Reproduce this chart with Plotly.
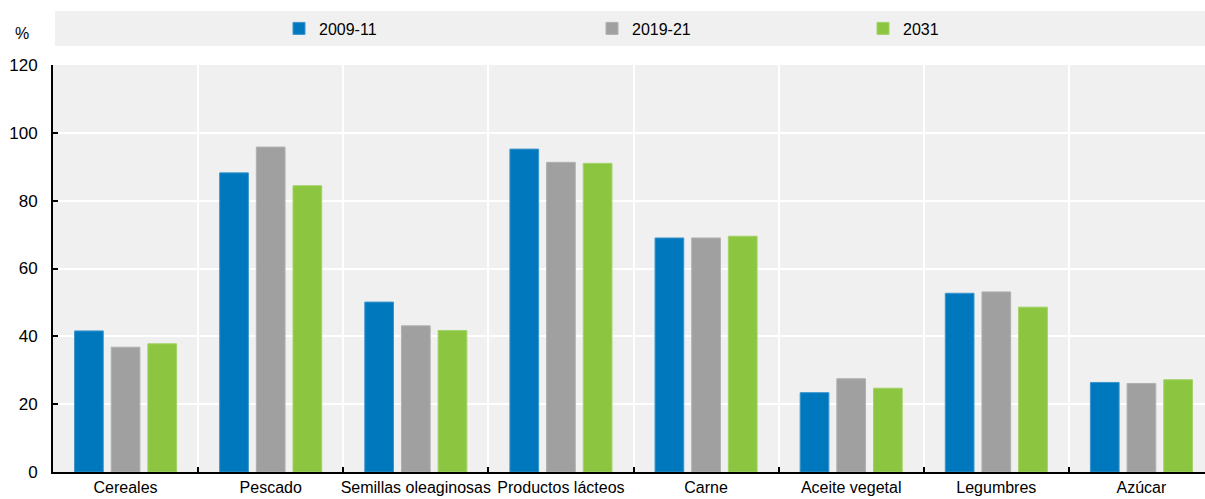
import plotly.graph_objects as go

categories = ["Cereales", "Pescado", "Semillas oleaginosas", "Productos lácteos",
              "Carne", "Aceite vegetal", "Legumbres", "Azúcar"]
series_names = ["2009-11", "2019-21", "2031"]
v_2009_11 = [41.6, 88.2, 50.1, 95.2, 69.0, 23.4, 52.7, 26.4]
v_2019_21 = [36.8, 95.8, 43.1, 91.3, 69.0, 27.5, 53.1, 26.1]
v_2031 = [37.8, 84.4, 41.7, 91.0, 69.5, 24.7, 48.6, 27.2]
y_ticks = [0, 20, 40, 60, 80, 100, 120]

colors = ["#0078be", "#a0a0a0", "#8cc641"]
edge_colors = ["#3b95cc", "#b0b0b0", "#a2d265"]
values = [v_2009_11, v_2019_21, v_2031]

FONT = "Liberation Sans, Arial, sans-serif"
W, H = 1205, 499
ML, MR, MT, MB = 53, 0, 65, 27
plot_w = W - ML - MR
plot_h = H - MT - MB

fig = go.Figure()
legend_ids = ["legend", "legend2", "legend3"]
for name, vals, c, ec, lg in zip(series_names, values, colors, edge_colors, legend_ids):
    fig.add_trace(go.Bar(
        x=categories, y=vals, name=name,
        marker=dict(color=c, line=dict(color=ec, width=1)),
        legend=lg,
    ))


def px_x(p):
    return (p - ML) / plot_w


def px_y(p):
    return (H - MB - p) / plot_h


# legend strip background
fig.add_shape(type="rect", xref="paper", yref="paper",
              x0=px_x(55), x1=px_x(1205), y0=px_y(46), y1=px_y(11),
              fillcolor="#f0f0f0", line=dict(width=0), layer="below")

legend_text_x = [314, 627, 898]
leg_common = dict(orientation="h", yanchor="middle", xanchor="left",
                  bgcolor="rgba(0,0,0,0)", borderwidth=0,
                  font=dict(family=FONT, size=16, color="#000"),
                  itemwidth=30, tracegroupgap=0)
layout_legends = {}
for lg, tx in zip(legend_ids, legend_text_x):
    layout_legends[lg] = dict(leg_common, x=px_x(tx - 35), y=px_y(28.5))

fig.update_layout(
    width=W, height=H,
    margin=dict(l=ML, r=MR, t=MT, b=MB, pad=0, autoexpand=False),
    paper_bgcolor="white", plot_bgcolor="#f0f0f0",
    barmode="group", bargap=0.242, bargroupgap=0.217,
    font=dict(family=FONT, size=16, color="#000"),
    showlegend=True,
    **layout_legends,
)

fig.update_xaxes(
    type="category", range=[-0.5, 7.5 - 9 / 145.17],
    tickson="boundaries", ticks="inside", ticklen=5, tickwidth=2, tickcolor="#000",
    showgrid=True, gridcolor="white", gridwidth=2,
    showline=True, linecolor="#000", linewidth=2,
    tickangle=0, automargin=False,
    tickfont=dict(family=FONT, size=16, color="#000"),
)
fig.update_yaxes(
    range=[0, 120], tickvals=y_ticks,
    ticks="inside", ticklen=5, tickwidth=2, tickcolor="#000",
    showgrid=True, gridcolor="white", gridwidth=2,
    showline=True, linecolor="#000", linewidth=2,
    zeroline=False, automargin=False, ticklabelstandoff=10,
    tickfont=dict(family=FONT, size=17, color="#000"),
)

fig.add_annotation(text="%", xref="paper", yref="paper",
                   x=px_x(22), y=px_y(33), xanchor="center", yanchor="middle",
                   showarrow=False, font=dict(family=FONT, size=16, color="#000"))

fig.write_html("out.html")
